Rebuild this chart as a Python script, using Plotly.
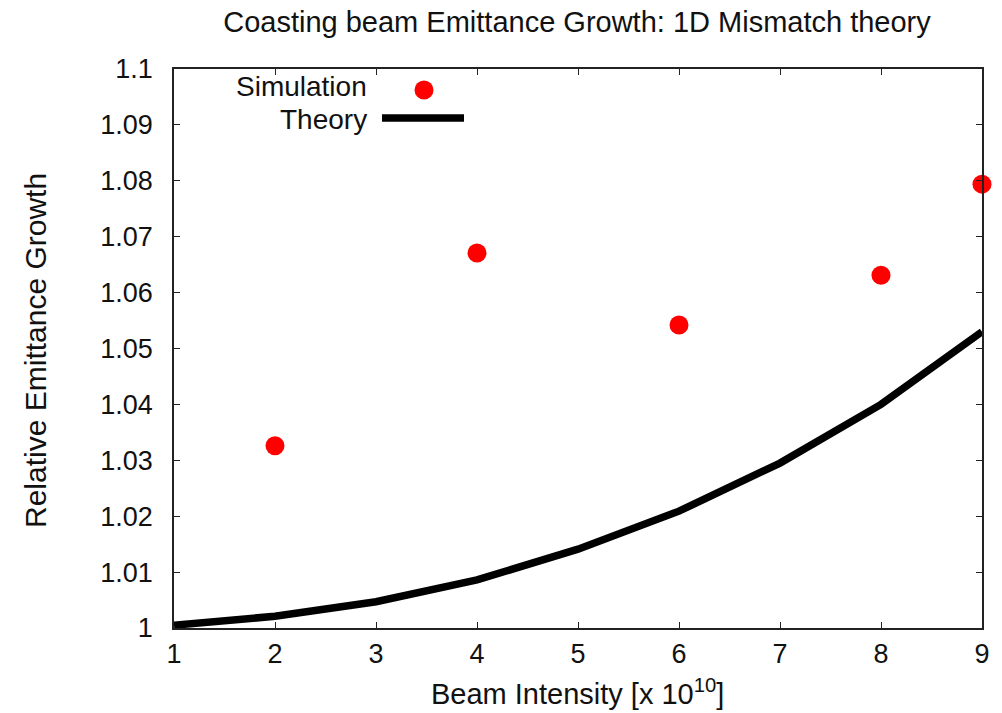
import plotly.graph_objects as go

# Beam intensity in units of 1e10
sim_intensity = [2, 4, 6, 8, 9]
sim_growth = [1.0326, 1.0671, 1.0542, 1.0631, 1.0794]

theory_intensity = [1, 2, 3, 4, 5, 6, 7, 8, 9]
theory_growth = [1.0005, 1.0021, 1.0047, 1.0086, 1.0141, 1.0209, 1.0295, 1.0400, 1.0530]

x_ticks = [1, 2, 3, 4, 5, 6, 7, 8, 9]
y_ticks = [1.0, 1.01, 1.02, 1.03, 1.04, 1.05, 1.06, 1.07, 1.08, 1.09, 1.1]
y_tick_text = ["1", "1.01", "1.02", "1.03", "1.04", "1.05", "1.06", "1.07", "1.08", "1.09", "1.1"]

FONT = "Liberation Sans, Arial, sans-serif"
TXT = "#111111"
W, H = 1002, 713
L, R, T, B = 174, 20, 69, 85
PW, PH = W - L - R, H - T - B


def px(xp):
    return (xp - L) / PW


def py(yp):
    return (H - B - yp) / PH


fig = go.Figure()
fig.add_trace(go.Scatter(
    x=theory_intensity, y=theory_growth, mode="lines",
    line=dict(color="black", width=7.5), name="Theory",
    cliponaxis=False, showlegend=False,
))
fig.add_trace(go.Scatter(
    x=sim_intensity, y=sim_growth, mode="markers",
    marker=dict(color="#ff0000", size=19, line=dict(width=0)),
    name="Simulation", cliponaxis=False, showlegend=False,
))

# Key drawn gnuplot-style: label on the left, sample on the right
fig.add_annotation(x=px(368), y=py(103), xref="paper", yref="paper",
                   text="Simulation", showarrow=False, xanchor="right",
                   yanchor="bottom", borderpad=0,
                   font=dict(family=FONT, size=28, color=TXT))
fig.add_annotation(x=px(368), y=py(103), xref="paper", yref="paper",
                   text="Theory", showarrow=False, xanchor="right",
                   yanchor="top", borderpad=0,
                   font=dict(family=FONT, size=28, color=TXT))
fig.add_shape(type="circle", xref="paper", yref="paper",
              x0=px(414.5), x1=px(433.5), y0=py(99.5), y1=py(80.5),
              fillcolor="#ff0000", line=dict(width=0))
fig.add_shape(type="line", xref="paper", yref="paper",
              x0=px(382), x1=px(464), y0=py(118), y1=py(118),
              line=dict(color="black", width=7.5))

# Axis titles
fig.add_annotation(x=px(577), y=py(692), xref="paper", yref="paper",
                   text="Beam Intensity [x 10<sup>10</sup>]", showarrow=False,
                   xanchor="center", yanchor="middle",
                   font=dict(family=FONT, size=29, color=TXT))
fig.add_annotation(x=px(35), y=py(351), xref="paper", yref="paper",
                   text="Relative Emittance Growth", showarrow=False,
                   textangle=-90, xanchor="center", yanchor="middle",
                   font=dict(family=FONT, size=30, color=TXT))

axis_common = dict(
    showline=True, linecolor="#222222", linewidth=1.5, mirror="ticks",
    ticks="inside", ticklen=6, tickwidth=1.2, tickcolor="#222222",
    showgrid=False, zeroline=False,
    tickfont=dict(family=FONT, size=27, color=TXT),
)

fig.update_layout(
    width=W, height=H,
    margin=dict(l=L, r=R, t=T, b=B),
    paper_bgcolor="white", plot_bgcolor="white",
    title=dict(text="Coasting beam Emittance Growth: 1D Mismatch theory",
               x=px(577), xanchor="center", y=1 - 22 / H, yanchor="middle",
               xref="paper", yref="container",
               font=dict(family=FONT, size=29, color=TXT)),
    xaxis=dict(range=[1, 9], tickvals=x_ticks, ticklabelstandoff=1,
               **axis_common),
    yaxis=dict(range=[1.0, 1.1], tickvals=y_ticks, ticktext=y_tick_text,
               ticklabelstandoff=14, **axis_common),
    showlegend=False,
)

fig.write_html("out.html")
